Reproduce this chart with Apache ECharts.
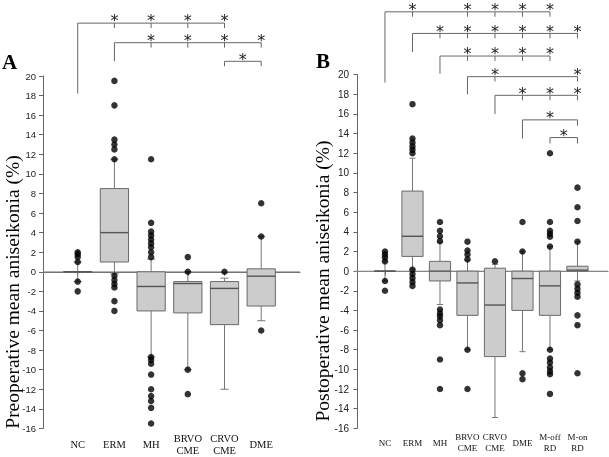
<!DOCTYPE html>
<html><head><meta charset="utf-8">
<script src="https://cdn.jsdelivr.net/npm/echarts@6/dist/echarts.min.js"></script>
<style>html,body{margin:0;padding:0;background:#fff}#c{width:609px;height:457px;filter:grayscale(100%)}</style>
</head><body><div id="c"></div>
<script>
// ---------- data ----------
const categoriesA = ['NC', 'ERM', 'MH', 'BRVO\nCME', 'CRVO\nCME', 'DME'];
const categoriesB = ['NC', 'ERM', 'MH', 'BRVO\nCME', 'CRVO\nCME', 'DME', 'M-off\nRD', 'M-on\nRD'];

// [min whisker, Q1, median, Q3, max whisker]
const boxA = [
  [-1, 0, 0, 0, 1],
  [-0.2, 1, 4, 8.5, 11.5],
  [-8.7, -4, -1.5, 0, 1.3],
  [-10, -4.2, -1.2, -1, 0],
  [-12, -5.4, -1.7, -1, -0.65],
  [-5, -3.5, -0.45, 0.3, 3.6]
];
const boxB = [
  [-1, 0, 0, 0, 1],
  [0.2, 1.5, 3.55, 8.15, 11.5],
  [-3.4, -1, 0, 1, 3],
  [-8, -4.5, -1.2, 0, 1.1],
  [-14.9, -8.7, -3.45, 0.3, 0.7],
  [-8.2, -4, -0.75, 0, 2],
  [-8, -4.5, -1.5, 0, 2.5],
  [-1, 0, 0.1, 0.5, 3]
];

const outliersA = [
  [2, 1.8, 1.5, 1, -1, -2],
  [19.5, 17, 13.5, 13, 12.5, 11.5, -0.4, -0.85, -1.25, -1.6, -3, -4],
  [11.5, 5, 4.1, 3.7, 3.3, 2.9, 2.5, 2, 1.5, -8.7, -9, -9.4, -10.5, -12, -12.7, -13.2, -13.9, -15.5],
  [1.5, 0, -10, -12.5],
  [0],
  [7, 3.6, -6]
];
const outliersB = [
  [2, 1.7, 1.4, 1, -1, -2],
  [17, 13.5, 13.1, 12.7, 12.35, 12, 0.15, -0.3, -0.7, -1.1, -1.5],
  [5, 4.1, 3.55, 3.05, -3.9, -4.3, -4.6, -5, -5.5, -9, -12],
  [3, 2.1, 1.7, 1.2, -8, -12],
  [1],
  [5, 2, -10.4, -11],
  [12, 5, 4.1, 3.8, 3.5, 2.5, -8, -8.9, -9.3, -9.8, -10.2, -10.5, -12.5],
  [8.5, 6.5, 5.1, 3, -1.35, -1.8, -2.2, -2.6, -4.5, -5.5, -10.4]
];

// significance brackets: [reference group, bracket level, left leg end, compared groups, mode, right leg end]
const bracketsA = [
  [1, 25.4, 18.2, [2, 3, 4, 5], 'ticks'],
  [2, 23.4, 21.5, [3, 4, 5, 6], 'ticks'],
  [5, 21.5, 21.0, [6], 'mid', 21.0]
];
const bracketsB = [
  [1, 26.4, 19.2, [2, 4, 5, 6, 7], 'ticks'],
  [2, 24.2, 22.3, [3, 4, 5, 6, 7, 8], 'ticks'],
  [3, 21.9, 20.1, [4, 5, 6, 7], 'ticks'],
  [4, 19.8, 18.0, [5, 8], 'ticks'],
  [5, 17.9, 16.0, [6, 7, 8], 'ticks'],
  [6, 15.4, 13.5, [8], 'mid', 14.8],
  [7, 13.6, 13.0, [8], 'mid', 13.0]
];

const yMin = -16, yMax = 20, yStep = 2;
const titleA = 'Preoperative mean aniseikonia (%)';
const titleB = 'Postoperative mean aniseikonia (%)';
const starText = '*';

// ---------- styles ----------
const BOX_W = 0.77, CAP_W = 0.22, TICK_LEN = 0.5, STAR_DY = 2.2, STAR_SIZE = 16;
const AXIS_COLOR = '#666';
const SERIF = '"Liberation Serif", "Times New Roman", serif';
const SANS = '"Liberation Sans", Arial, sans-serif';
const STAR_FONT = '"DejaVu Sans", sans-serif';

function renderBox(params, api) {
  const x = api.value(0);
  const c = api.coord([x, api.value(1)]);
  const cx = c[0], yMn = c[1];
  const yQ1 = api.coord([x, api.value(2)])[1];
  const yMd = api.coord([x, api.value(3)])[1];
  const yQ3 = api.coord([x, api.value(4)])[1];
  const yMx = api.coord([x, api.value(5)])[1];
  const w = api.size([BOX_W, 0])[0];
  const cw = api.size([CAP_W, 0])[0];
  const ws = { stroke: '#777', lineWidth: 1 };
  return {
    type: 'group',
    children: [
      { type: 'line', shape: { x1: cx, y1: yMx, x2: cx, y2: yQ3 }, style: ws },
      { type: 'line', shape: { x1: cx, y1: yQ1, x2: cx, y2: yMn }, style: ws },
      { type: 'line', shape: { x1: cx - cw / 2, y1: yMx, x2: cx + cw / 2, y2: yMx }, style: ws },
      { type: 'line', shape: { x1: cx - cw / 2, y1: yMn, x2: cx + cw / 2, y2: yMn }, style: ws },
      { type: 'rect', shape: { x: cx - w / 2, y: yQ3, width: w, height: Math.max(yQ1 - yQ3, 0) },
        style: { fill: '#cccccc', stroke: '#6a6a6a', lineWidth: 1 } },
      { type: 'line', shape: { x1: cx - w / 2, y1: yMd, x2: cx + w / 2, y2: yMd },
        style: { stroke: '#555', lineWidth: 1.4 } }
    ]
  };
}

function renderZero(params, api) {
  const cs = params.coordSys;
  const y = api.coord([0, api.value(0)])[1];
  return { type: 'line', shape: { x1: cs.x, y1: y, x2: cs.x + cs.width, y2: y },
    style: { stroke: '#999', lineWidth: 1 } };
}

function makeBrackets(brackets) {
  return function (params, api) {
    const b = brackets[params.dataIndex];
    const ref = b[0], level = b[1], legEnd = b[2], targets = b[3], mode = b[4];
    const last = targets[targets.length - 1];
    const p0 = api.coord([ref, level]);
    const p1 = api.coord([last, level]);
    const pl = api.coord([ref, legEnd]);
    const ls = { stroke: '#666', lineWidth: 1 };
    const star = (x, y) => ({ type: 'text', x: x, y: y - STAR_DY,
      style: { text: starText, fill: '#222', font: STAR_SIZE + 'px ' + STAR_FONT,
        align: 'center', verticalAlign: 'middle' } });
    const ch = [
      { type: 'line', shape: { x1: p0[0], y1: p0[1], x2: p1[0], y2: p1[1] }, style: ls },
      { type: 'line', shape: { x1: p0[0], y1: p0[1], x2: pl[0], y2: pl[1] }, style: ls }
    ];
    if (mode === 'mid') {
      const pr = api.coord([last, b[5]]);
      ch.push({ type: 'line', shape: { x1: p1[0], y1: p1[1], x2: pr[0], y2: pr[1] }, style: ls });
      ch.push(star((p0[0] + p1[0]) / 2, p0[1]));
    } else {
      targets.forEach(t => {
        const pt = api.coord([t, level]);
        const pe = api.coord([t, level - TICK_LEN]);
        ch.push({ type: 'line', shape: { x1: pt[0], y1: pt[1], x2: pe[0], y2: pe[1] }, style: ls });
        ch.push(star(pt[0], pt[1]));
      });
    }
    return { type: 'group', children: ch };
  };
}

function xAxisFor(idx, cats, min, max, fs, lh, margin) {
  const vals = cats.map((c, i) => i + 1);
  return {
    type: 'value', gridIndex: idx, min: min, max: max,
    axisLine: { show: true, lineStyle: { color: AXIS_COLOR } },
    axisTick: { show: true, customValues: vals, length: 4, lineStyle: { color: AXIS_COLOR } },
    axisLabel: { customValues: vals, formatter: v => cats[Math.round(v) - 1], fontFamily: SERIF,
      fontSize: fs, lineHeight: lh, color: '#111', margin: margin, verticalAlign: 'middle', align: 'center' },
    splitLine: { show: false }
  };
}
function yAxisFor(idx, fs, margin) {
  return {
    type: 'value', gridIndex: idx, min: yMin, max: yMax, interval: yStep,
    axisLine: { show: true, lineStyle: { color: AXIS_COLOR } },
    axisTick: { show: true, length: 4, lineStyle: { color: AXIS_COLOR } },
    axisLabel: { fontFamily: SANS, fontSize: fs, color: '#222', margin: margin },
    splitLine: { show: false }
  };
}

const option = {
  animation: false,
  backgroundColor: '#fff',
  grid: [
    { left: 43, top: 76, width: 257, height: 354 },
    { left: 355, top: 74.7, width: 253, height: 353.6 }
  ],
  xAxis: [
    xAxisFor(0, categoriesA, 0.054, 7.057, 10.5, 12.3, 16.3),
    xAxisFor(1, categoriesB, -0.09, 9.11, 9, 11, 14.3)
  ],
  yAxis: [yAxisFor(0, 9.5, 7), yAxisFor(1, 10, 6)],
  graphic: [
    { type: 'text', x: 2, y: 62, style: { text: 'A', font: 'bold 21px ' + SERIF, fill: '#000', align: 'left', verticalAlign: 'middle' } },
    { type: 'text', x: 316, y: 61, style: { text: 'B', font: 'bold 21px ' + SERIF, fill: '#000', align: 'left', verticalAlign: 'middle' } },
    { type: 'text', x: 12, y: 292, rotation: Math.PI / 2, style: { text: titleA, font: '19.5px ' + SERIF, fill: '#000', align: 'center', verticalAlign: 'middle' } },
    { type: 'text', x: 322, y: 281, rotation: Math.PI / 2, style: { text: titleB, font: '19.5px ' + SERIF, fill: '#000', align: 'center', verticalAlign: 'middle' } }
  ],
  series: [
    { type: 'custom', xAxisIndex: 0, yAxisIndex: 0, data: [[0]], renderItem: renderZero, encode: { y: 0 }, z: 1, silent: true },
    { type: 'custom', xAxisIndex: 1, yAxisIndex: 1, data: [[0]], renderItem: renderZero, encode: { y: 0 }, z: 1, silent: true },
    { type: 'custom', xAxisIndex: 0, yAxisIndex: 0, z: 2, renderItem: renderBox,
      data: boxA.map((b, i) => [i + 1].concat(b)), encode: { x: 0, y: [1, 2, 3, 4, 5] } },
    { type: 'custom', xAxisIndex: 1, yAxisIndex: 1, z: 2, renderItem: renderBox,
      data: boxB.map((b, i) => [i + 1].concat(b)), encode: { x: 0, y: [1, 2, 3, 4, 5] } },
    { type: 'scatter', xAxisIndex: 0, yAxisIndex: 0, z: 3, symbolSize: 6.5, itemStyle: { color: '#000' },
      data: outliersA.flatMap((arr, i) => arr.map(v => [i + 1, v])) },
    { type: 'scatter', xAxisIndex: 1, yAxisIndex: 1, z: 3, symbolSize: 6.5, itemStyle: { color: '#000' },
      data: outliersB.flatMap((arr, i) => arr.map(v => [i + 1, v])) },
    { type: 'custom', xAxisIndex: 0, yAxisIndex: 0, z: 4, clip: false, renderItem: makeBrackets(bracketsA),
      data: bracketsA.map(b => [b[0], b[1]]), encode: { x: 0, y: 1 } },
    { type: 'custom', xAxisIndex: 1, yAxisIndex: 1, z: 4, clip: false, renderItem: makeBrackets(bracketsB),
      data: bracketsB.map(b => [b[0], b[1]]), encode: { x: 0, y: 1 } }
  ]
};
const chart = echarts.init(document.getElementById('c'), null, { renderer: 'svg' });
chart.setOption(option);
</script>
</body></html>
